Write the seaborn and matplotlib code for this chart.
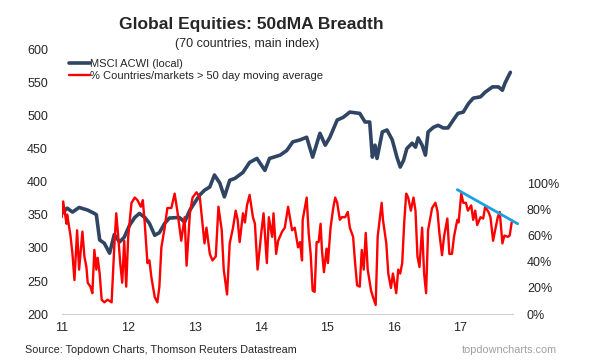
import pandas as pd
import seaborn as sns
import matplotlib.pyplot as plt
from matplotlib.ticker import FuncFormatter

sns.set_style('white')
plt.rcParams['font.family'] = ['Liberation Sans', 'DejaVu Sans']

# MSCI ACWI (local), decimal year (11 = 2011)
acwi_year = [11.00, 11.08, 11.16, 11.26, 11.39, 11.49, 11.52, 11.57, 11.64, 11.72, 11.79, 11.87,
             11.94, 12.02, 12.10, 12.17, 12.25, 12.32, 12.40, 12.47, 12.55, 12.62, 12.77, 12.85,
             12.93, 13.00, 13.08, 13.15, 13.23, 13.30, 13.38, 13.45, 13.53, 13.61, 13.73, 13.83,
             13.94, 14.06, 14.13, 14.29, 14.39, 14.48, 14.59, 14.69, 14.78, 14.89, 14.97, 15.04,
             15.15, 15.24, 15.34, 15.49, 15.57, 15.64, 15.68, 15.72, 15.75, 15.83, 15.90, 15.98,
             16.05, 16.10, 16.15, 16.20, 16.28, 16.33, 16.37, 16.43, 16.48, 16.52, 16.60, 16.67,
             16.75, 16.82, 16.90, 16.97, 17.05, 17.13, 17.20, 17.31, 17.38, 17.49, 17.58, 17.64,
             17.68, 17.76]
acwi_value = [352, 360, 354, 361, 357, 352, 350, 312, 307, 292, 320, 309,
              316, 334, 346, 352, 346, 337, 319, 323, 337, 345, 346, 339,
              357, 368, 380, 387, 392, 410, 398, 377, 402, 405, 414, 429,
              435, 417, 435, 440, 447, 460, 463, 467, 437, 473, 455, 467,
              493, 497, 505, 503, 490, 490, 437, 455, 435, 475, 478, 463,
              437, 422, 432, 450, 458, 452, 466, 455, 440, 475, 482, 485,
              481, 481, 493, 503, 505, 518, 526, 528, 535, 543, 543, 538,
              549, 565]

# % of countries/markets above their 50 day moving average
breadth_year = [11.00, 11.02, 11.07, 11.08, 11.13, 11.16, 11.19, 11.23, 11.26, 11.31, 11.34, 11.37,
                11.39, 11.43, 11.46, 11.49, 11.52, 11.54, 11.57, 11.60, 11.64, 11.69, 11.75, 11.79,
                11.82, 11.85, 11.88, 11.91, 11.94, 11.97, 12.00, 12.05, 12.10, 12.14, 12.19, 12.22,
                12.25, 12.29, 12.32, 12.35, 12.40, 12.44, 12.47, 12.50, 12.55, 12.59, 12.65, 12.70,
                12.74, 12.80, 12.85, 12.88, 12.93, 12.97, 13.03, 13.08, 13.11, 13.15, 13.18, 13.23,
                13.27, 13.32, 13.36, 13.41, 13.44, 13.49, 13.53, 13.58, 13.62, 13.65, 13.68, 13.73,
                13.76, 13.79, 13.83, 13.88, 13.91, 13.95, 14.01, 14.04, 14.09, 14.12, 14.17, 14.19,
                14.23, 14.26, 14.32, 14.36, 14.41, 14.47, 14.51, 14.56, 14.59, 14.62, 14.63, 14.69,
                14.72, 14.75, 14.78, 14.81, 14.84, 14.87, 14.90, 14.92, 14.95, 14.99, 15.01, 15.05,
                15.09, 15.12, 15.15, 15.19, 15.22, 15.27, 15.31, 15.34, 15.39, 15.42, 15.45, 15.49,
                15.52, 15.55, 15.58, 15.61, 15.66, 15.69, 15.73, 15.76, 15.82, 15.84, 15.89, 15.92,
                15.96, 15.99, 16.04, 16.07, 16.10, 16.13, 16.16, 16.19, 16.22, 16.26, 16.30, 16.33,
                16.36, 16.39, 16.43, 16.46, 16.49, 16.52, 16.58, 16.63, 16.66, 16.69, 16.73, 16.76,
                16.81, 16.84, 16.88, 16.91, 16.96, 16.98, 17.02, 17.05, 17.09, 17.12, 17.17, 17.20,
                17.23, 17.26, 17.31, 17.35, 17.38, 17.43, 17.46, 17.50, 17.53, 17.57, 17.60, 17.64,
                17.67, 17.72, 17.75, 17.78]
breadth_pct = [74, 86, 69, 76, 60, 46, 26, 64, 34, 63, 44, 36,
               24, 21, 16, 49, 34, 43, 31, 11, 9, 11, 9, 51,
               77, 59, 39, 24, 56, 21, 59, 85, 89, 87, 82, 87,
               69, 39, 41, 28, 13, 9, 21, 51, 66, 81, 81, 92,
               79, 56, 74, 37, 77, 89, 93, 89, 74, 54, 66, 46,
               41, 44, 82, 64, 34, 15, 54, 66, 79, 72, 55, 77,
               70, 83, 91, 74, 69, 34, 64, 77, 39, 74, 59, 77,
               46, 56, 63, 66, 82, 64, 66, 51, 55, 41, 72, 89,
               62, 46, 18, 17, 55, 55, 69, 49, 32, 50, 39, 66,
               81, 89, 85, 72, 74, 74, 78, 66, 59, 39, 22, 21,
               49, 34, 62, 34, 18, 13, 7, 59, 85, 72, 54, 31,
               20, 31, 16, 34, 31, 39, 70, 92, 89, 79, 89, 79,
               44, 36, 66, 31, 16, 64, 81, 85, 79, 62, 45, 59,
               73, 46, 46, 59, 72, 70, 92, 85, 85, 79, 83, 72,
               79, 68, 74, 73, 82, 78, 74, 56, 64, 74, 78, 54,
               60, 59, 60, 70]

# falling-highs trend line in 2017
trend_year = [16.96, 17.87]
trend_pct = [95, 69]

year_ticks = [11, 12, 13, 14, 15, 16, 17]
left_ticks = [200, 250, 300, 350, 400, 450, 500, 550, 600]
right_ticks = [0, 20, 40, 60, 80, 100]

df_acwi = pd.DataFrame({'year': acwi_year, 'value': acwi_value})
df_breadth = pd.DataFrame({'year': breadth_year, 'pct': breadth_pct})
df_trend = pd.DataFrame({'year': trend_year, 'pct': trend_pct})

fig = plt.figure(figsize=(5.89, 3.64), dpi=100)
ax = fig.add_axes([0.105, 0.137, 0.766, 0.728])
ax2 = ax.twinx()

sns.lineplot(data=df_acwi, x='year', y='value', ax=ax, color='#2F4563', lw=2.6,
             label='MSCI ACWI (local)', legend=False)
sns.lineplot(data=df_breadth, x='year', y='pct', ax=ax2, color='#FF0000', lw=1.7,
             label='% Countries/markets > 50 day moving average', legend=False)
sns.lineplot(data=df_trend, x='year', y='pct', ax=ax2, color='#1BA1E2', lw=2, clip_on=False,
             legend=False)

ax.set_xlim(11, 17.8)
ax.set_ylim(200, 600)
ax2.set_ylim(0, 202.3)
ax.set_xticks(year_ticks)
ax.set_xticklabels([str(t) for t in year_ticks])
ax.set_yticks(left_ticks)
ax2.set_yticks(right_ticks)
ax2.yaxis.set_major_formatter(FuncFormatter(lambda v, p: f'{int(v)}%'))
ax.set_xlabel('')
ax.set_ylabel('')
ax2.set_ylabel('')

for a in (ax, ax2):
    for s in ('top', 'left', 'right', 'bottom'):
        a.spines[s].set_visible(False)
ax.spines['bottom'].set_visible(True)
ax.spines['bottom'].set_color('#D0D0D0')
ax.tick_params(axis='x', direction='in', length=4, color='#D0D0D0', labelsize=9, pad=6)
ax.tick_params(axis='y', length=0, labelsize=9, pad=10)
ax2.tick_params(axis='y', length=0, labelsize=9, pad=10)

if ax2.get_legend() is not None:
    ax2.get_legend().remove()
h1, l1 = ax.get_legend_handles_labels()
h2, l2 = ax2.get_legend_handles_labels()
leg = ax2.legend(h1 + h2[:1], l1 + l2[:1], loc='upper left', bbox_to_anchor=(0.005, 0.98),
                 frameon=False, fontsize=8, handlelength=1.9, handletextpad=0.0,
                 labelspacing=0.15, borderaxespad=0)

fig.text(0.427, 0.933, 'Global Equities: 50dMA Breadth', ha='center', va='center',
         fontsize=12.5, fontweight='bold')
fig.text(0.42, 0.879, '(70 countries, main index)', ha='center', va='center', fontsize=9)
fig.text(0.043, 0.038, 'Source: Topdown Charts, Thomson Reuters Datastream', ha='left',
         va='center', fontsize=7.8)
fig.text(0.946, 0.038, 'topdowncharts.com', ha='right', va='center', fontsize=7.8,
         color='#A0A0A0')

plt.savefig('out.png', dpi=100)
